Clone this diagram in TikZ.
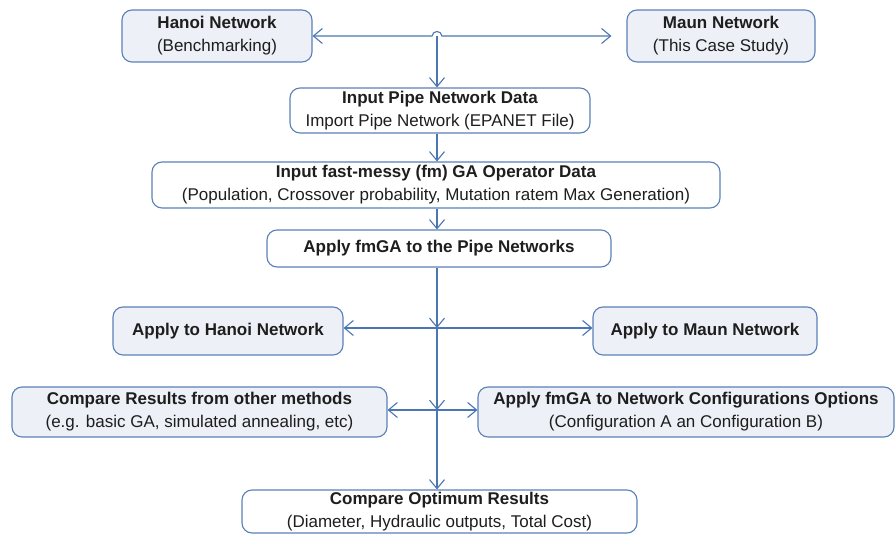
\documentclass[tikz,border=0pt]{standalone}
\usepackage{fontspec}
\setmainfont{Liberation Sans}
\usetikzlibrary{arrows.meta,calc}
\definecolor{bcol}{HTML}{5A80B8}
\definecolor{lcol}{HTML}{4A76B2}
\definecolor{gfill}{HTML}{EDF0F6}
\definecolor{tcol}{HTML}{1E1E1E}
\tikzset{
  box/.style={draw=bcol, line width=1.1pt, rounded corners=10pt, align=center,
    inner sep=0pt, text=tcol, font=\fontsize{17}{23}\selectfont, fill=white},
  gbox/.style={box, fill=gfill},
  tip/.tip={Straight Barb[length=9pt,width=15pt,line width=1.1pt]},
  conn/.style={draw=lcol, line width=1.1pt, -tip},
  conn2/.style={draw=lcol, line width=1.1pt, tip-tip},
}
\begin{document}
\begin{tikzpicture}[x=1pt,y=-1pt]
\useasboundingbox (0,0) rectangle (895,534);
\node[gbox, minimum width=190pt, minimum height=52pt] (hanoi) at (217,36) {\textbf{Hanoi Network}\\(Benchmarking)};
\node[gbox, minimum width=188pt, minimum height=52pt] (maun) at (721,36) {\textbf{Maun Network}\\(This Case Study)};
\node[box, minimum width=300pt, minimum height=45pt] (input) at (440,110.5) {\textbf{Input Pipe Network Data}\\Import Pipe Network (EPANET File)};
\node[box, minimum width=568pt, minimum height=46pt] (fm) at (436,185) {\textbf{Input fast-messy (fm) GA Operator Data}\\(Population, Crossover probability, Mutation ratem Max Generation)};
\node[box, minimum width=344pt, minimum height=37pt] (apply) at (439,248.5) {\textbf{Apply fmGA to the Pipe Networks}};
\node[gbox, minimum width=230pt, minimum height=48pt] (ah) at (228,331) {\textbf{Apply to Hanoi Network}};
\node[gbox, minimum width=224pt, minimum height=48pt] (am) at (705,331) {\textbf{Apply to Maun Network}};
\node[gbox, minimum width=375pt, minimum height=50pt] (cr) at (199.5,412) {\textbf{Compare Results from other methods}\\(e.g. basic GA, simulated annealing, etc)};
\node[gbox, minimum width=416pt, minimum height=50pt] (ac) at (686,412) {\textbf{Apply fmGA to Network Configurations Options}\\(Configuration A an Configuration B)};
\node[box, minimum width=395pt, minimum height=43pt] (opt) at (439.5,511.5) {\textbf{Compare Optimum Results}\\(Diameter, Hydraulic outputs, Total Cost)};
\coordinate (j0) at (437,36);
\coordinate (j1) at (437,328);
\coordinate (j2) at (437,410);
% top connector with hop
\draw[conn2, shorten >=15pt] (hanoi.east) -- ([xshift=-5pt]j0)
  .. controls ([xshift=-4pt,yshift=6pt]j0) and ([xshift=4pt,yshift=6pt]j0) .. ([xshift=5pt]j0) -- (maun.west);
\draw[conn] (j0) -- (input.north -| j0);
\draw[conn] (input.south -| j0) -- (fm.north -| j0);
\draw[conn] (fm.south -| j0) -- (apply.north -| j0);
\draw[conn] (apply.south -| j0) -- (j1);
\draw[conn] (j1) -- (ah.east |- j1);
\draw[conn] (j1) -- (am.west |- j1);
\draw[conn] (j1) -- (j2);
\draw[conn] (j2) -- (cr.east |- j2);
\draw[conn] (j2) -- (ac.west |- j2);
\draw[conn] (j2) -- (opt.north -| j2);
\end{tikzpicture}
\end{document}
